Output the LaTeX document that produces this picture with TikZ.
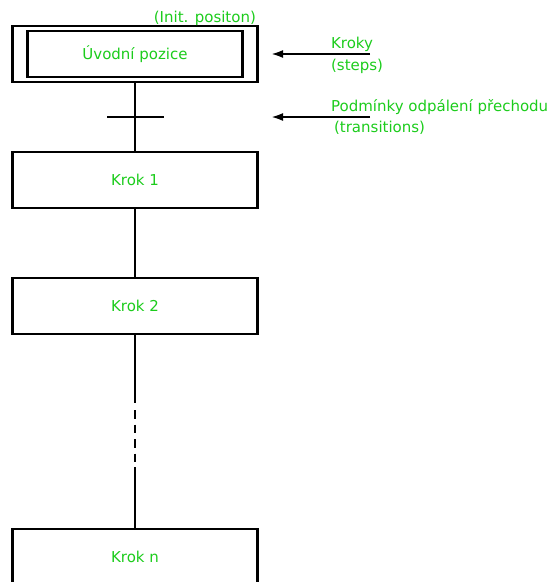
\documentclass[tikz,border=0pt]{standalone}
\usepackage{fontspec}
\setmainfont{DejaVu Sans}
\usetikzlibrary{arrows.meta}
\definecolor{txtgreen}{RGB}{28,204,28}
\begin{document}
\begin{tikzpicture}[x=1pt,y=-1pt,
  line width=2.2pt,
  every node/.style={font=\fontsize{15}{18}\selectfont, text=txtgreen},
  stepbox/.style={draw=black, line width=2.2pt, minimum width=245pt, minimum height=56pt, inner sep=0pt},
  initinner/.style={draw=black, line width=2.2pt, minimum width=215pt, minimum height=46pt, inner sep=0pt},
  lbl/.style={anchor=base west, inner sep=0pt},
  pointer/.style={-{Latex[length=12pt,width=8pt]}, line width=2.2pt}
]
\useasboundingbox (0,0) rectangle (553,582);
\clip (0,0) rectangle (553,582);
% initial step
\node[stepbox] (init) at (135,54) {};
\node[initinner] (initin) at (135,54) {Úvodní pozice};
\node[anchor=base east, inner sep=0pt] (initlbl) at (257,22) {(Init. positon)};
% transition
\coordinate (tl) at (107,117);
\coordinate (tr) at (164,117);
\draw (tl) -- (tr);
% steps
\node[stepbox] (k1) at (135,180) {Krok 1};
\node[stepbox] (k2) at (135,306) {Krok 2};
\node[stepbox] (kn) at (135,557) {Krok n};
% connectors
\draw (init.south) -- (k1.north);
\draw (k1.south) -- (k2.north);
\coordinate (d1) at (135,403);
\coordinate (d2) at (135,410);
\coordinate (d3) at (135,462);
\coordinate (d4) at (135,467);
\draw (k2.south) -- (d1);
\draw[dash pattern=on 8.5pt off 6pt] (d2) -- (d3);
\draw (d4) -- (kn.north);
% pointers
\coordinate (a1s) at (370,54);
\coordinate (a1e) at (271,54);
\coordinate (a2s) at (370,117);
\coordinate (a2e) at (271,117);
\draw[pointer] (a1s) -- (a1e);
\draw[pointer] (a2s) -- (a2e);
\node[lbl] (kroky) at (330,48) {Kroky};
\node[lbl] (steps) at (330,70) {(steps)};
\node[lbl] (podm) at (330,111) {Podmínky odpálení přechodu};
\node[lbl] (trans) at (333,132) {(transitions)};
\end{tikzpicture}
\end{document}
